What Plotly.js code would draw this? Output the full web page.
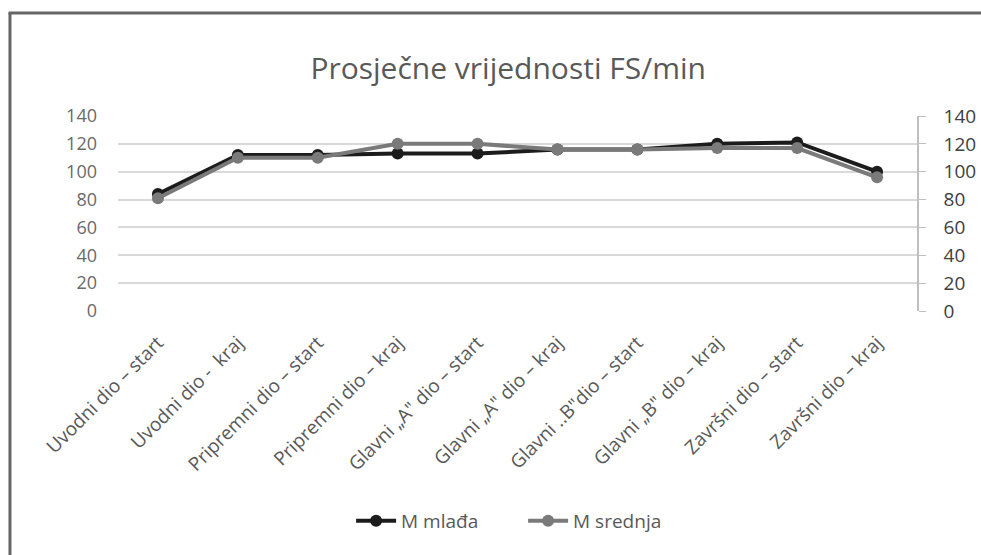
<!DOCTYPE html>
<html>
<head>
<meta charset="utf-8">
<script src="https://cdn.plot.ly/plotly-3.0.1.min.js"></script>
<style>html,body{margin:0;padding:0;background:#fff;}#chart{width:981px;height:555px;}</style>
</head>
<body>
<div id="chart"></div>
<script>
var categories = ["Uvodni dio – start", "Uvodni dio -  kraj", "Pripremni dio – start", "Pripremni dio – kraj", "Glavni „A\" dio – start", "Glavni „A\" dio – kraj", "Glavni ..B\"dio – start", "Glavni „B\" dio – kraj", "Završni dio – start", "Završni dio – kraj"];
var mlada = [84, 112, 112, 113, 113, 116, 116, 120, 121, 100];
var srednja = [81, 110, 110, 120, 120, 116, 116, 117, 117, 96];
var yTicks = [0, 20, 40, 60, 80, 100, 120, 140];

var font = "Open Sans, sans-serif";
var txt = "#595959";

var traces = [
  {x: categories, y: mlada, name: "M mlađa", type: "scatter", mode: "lines+markers",
   line: {color: "#1c1c1c", width: 4}, marker: {color: "#1c1c1c", size: 12}},
  {x: categories, y: srednja, name: "M srednja", type: "scatter", mode: "lines+markers",
   line: {color: "#7a7a7a", width: 4}, marker: {color: "#7a7a7a", size: 12}},
  {x: categories, y: srednja, yaxis: "y2", type: "scatter", mode: "none", showlegend: false, hoverinfo: "skip"}
];

var layout = {
  width: 981, height: 555,
  margin: {l: 118, r: 64, t: 116, b: 244},
  paper_bgcolor: "#fff", plot_bgcolor: "#fff",
  font: {family: font, color: txt, size: 14},
  title: {text: "Prosječne vrijednosti FS/min", font: {family: font, size: 30, color: txt},
          x: 0.518, xanchor: "center", y: 0.877, yanchor: "middle"},
  xaxis: {type: "category", tickangle: -45, showgrid: false, showline: false, ticks: "",
          ticklabelstandoff: 16,
          tickfont: {family: font, size: 19, color: txt}, range: [-0.5, 9.5]},
  yaxis: {range: [0, 140], tickvals: yTicks, showgrid: true, gridcolor: "#d9d9d9", gridwidth: 1.5,
          zeroline: false, showline: false, ticks: "", ticklabelstandoff: 20,
          tickfont: {family: font, size: 18, color: "#6a6a6a"}},
  yaxis2: {range: [0, 140], tickvals: yTicks, overlaying: "y", side: "right", showgrid: false,
           zeroline: false, showline: true, linecolor: "#bfbfbf", linewidth: 1.5,
           ticks: "outside", ticklen: 7, tickcolor: "#bfbfbf", ticklabelstandoff: 14,
           tickfont: {family: font, size: 19, color: "#404040"}},
  showlegend: true,
  legend: {orientation: "h", x: 0.507, xanchor: "center", y: -1.077, yanchor: "middle",
           font: {family: font, size: 19, color: txt}, itemwidth: 40, entrywidth: 117,
           bgcolor: "rgba(0,0,0,0)"},
  shapes: [
    {type: "line", xref: "paper", yref: "paper", x0: -0.1352, x1: -0.1352, y0: 1.528, y1: -1.3,
     line: {color: "#666", width: 3}},
    {type: "line", xref: "paper", yref: "paper", x0: -0.137, x1: 1.1, y0: 1.528, y1: 1.528,
     line: {color: "#666", width: 3}}
  ]
};

Plotly.newPlot("chart", traces, layout, {displayModeBar: false, responsive: false});
</script>
</body>
</html>
